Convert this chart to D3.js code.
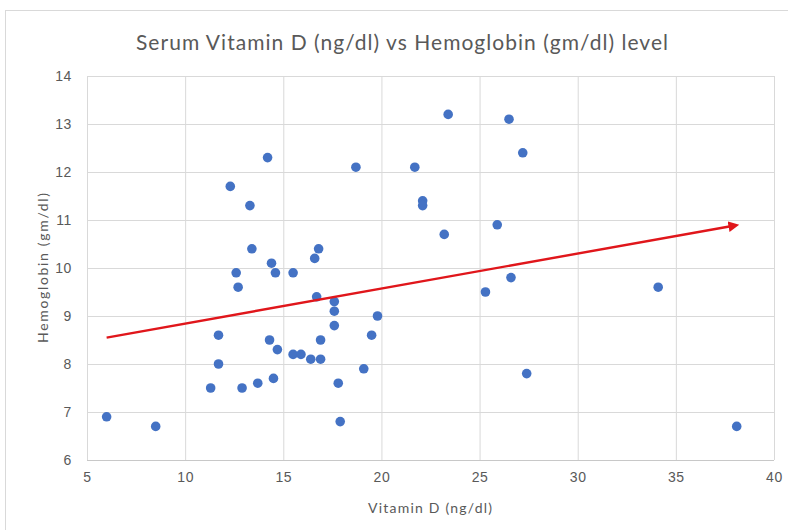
<!DOCTYPE html>
<html>
<head>
<meta charset="utf-8">
<script src="https://cdn.jsdelivr.net/npm/d3@7"></script>
<style>
  body { margin: 0; background: #fff; }
  svg { display: block; font-family: Lato, "Open Sans", sans-serif; }
</style>
</head>
<body>
<div id="chart"></div>
<script>
// Serum vitamin D (ng/dl) for each patient
const vitaminD = [
    6.0, 8.5, 11.3, 11.7, 11.7, 12.3, 12.6, 12.7, 12.9, 13.3,
    13.4, 13.7, 14.2, 14.3, 14.4, 14.5, 14.6, 14.7, 15.5, 15.5,
    15.9, 16.4, 16.6, 16.7, 16.8, 16.9, 16.9, 17.6, 17.6, 17.6,
    17.8, 17.9, 18.7, 19.1, 19.5, 19.8, 21.7, 22.1, 22.1, 23.2,
    23.4, 25.3, 25.9, 26.5, 26.6, 27.2, 27.4, 34.1, 38.1
];
// Hemoglobin (gm/dl), same order
const hemoglobin = [
    6.9, 6.7, 7.5, 8.0, 8.6, 11.7, 9.9, 9.6, 7.5, 11.3,
    10.4, 7.6, 12.3, 8.5, 10.1, 7.7, 9.9, 8.3, 9.9, 8.2,
    8.2, 8.1, 10.2, 9.4, 10.4, 8.5, 8.1, 9.3, 9.1, 8.8,
    7.6, 6.8, 12.1, 7.9, 8.6, 9.0, 12.1, 11.4, 11.3, 10.7,
    13.2, 9.5, 10.9, 13.1, 9.8, 12.4, 7.8, 9.6, 6.7
];
// hand drawn trend arrow (start, end) in data units
const arrowX = [6.0, 38.1];
const arrowY = [8.55, 10.88];

const xTicks = [5, 10, 15, 20, 25, 30, 35, 40];
const yTicks = [6, 7, 8, 9, 10, 11, 12, 13, 14];

const width = 788, height = 530;
const plot = { left: 87, right: 774, top: 76, bottom: 460 };
const grey = '#595959';

const svg = d3.select('#chart').append('svg')
    .attr('width', width)
    .attr('height', height);

// outer chart frame
svg.append('rect')
    .attr('x', 5.5).attr('y', 10.5)
    .attr('width', width).attr('height', height)
    .attr('fill', '#fff')
    .attr('stroke', '#d9d9d9');

const x = d3.scaleLinear().domain([5, 40]).range([plot.left, plot.right]);
const y = d3.scaleLinear().domain([6, 14]).range([plot.bottom, plot.top]);

// gridlines
svg.append('g')
    .attr('transform', `translate(0,${plot.bottom})`)
    .call(d3.axisBottom(x).tickValues(xTicks).tickSize(-(plot.bottom - plot.top)).tickFormat(''))
    .call(g => g.select('.domain').remove())
    .call(g => g.selectAll('line').attr('stroke', '#d9d9d9'));

svg.append('g')
    .attr('transform', `translate(${plot.left},0)`)
    .call(d3.axisLeft(y).tickValues(yTicks).tickSize(-(plot.right - plot.left)).tickFormat(''))
    .call(g => g.select('.domain').remove())
    .call(g => g.selectAll('line').attr('stroke', '#d9d9d9'));

// bottom axis line
svg.append('line')
    .attr('x1', plot.left).attr('x2', plot.right)
    .attr('y1', plot.bottom + 0.5).attr('y2', plot.bottom + 0.5)
    .attr('stroke', '#c8c8c8');

// tick labels
svg.append('g')
    .attr('transform', `translate(0,${plot.bottom + 12})`)
    .call(d3.axisBottom(x).tickValues(xTicks).tickSize(0).tickPadding(0))
    .call(g => g.select('.domain').remove())
    .call(g => g.selectAll('text').attr('fill', grey).attr('font-size', 14)
        .attr('letter-spacing', 0.6).attr('font-family', null));

svg.append('g')
    .attr('transform', `translate(${plot.left - 15},0)`)
    .call(d3.axisLeft(y).tickValues(yTicks).tickSize(0).tickPadding(0))
    .call(g => g.select('.domain').remove())
    .call(g => g.selectAll('text').attr('fill', grey).attr('font-size', 14)
        .attr('letter-spacing', 0.6).attr('font-family', null));

// points
svg.append('g')
    .selectAll('circle')
    .data(vitaminD.map((v, i) => [v, hemoglobin[i]]))
    .enter().append('circle')
    .attr('cx', d => x(d[0]))
    .attr('cy', d => y(d[1]))
    .attr('r', 4.8)
    .attr('fill', '#4472c4');

// red arrow
svg.append('defs').append('marker')
    .attr('id', 'head')
    .attr('viewBox', '0 0 10 10')
    .attr('refX', 2).attr('refY', 5)
    .attr('markerWidth', 4.5).attr('markerHeight', 4.5)
    .attr('orient', 'auto')
    .append('path')
    .attr('d', 'M0,0 L10,5 L0,10 z')
    .attr('fill', '#e0161b');

svg.append('line')
    .attr('x1', x(arrowX[0])).attr('y1', y(arrowY[0]))
    .attr('x2', x(arrowX[1]) - 6).attr('y2', y(arrowY[1]) + 0.5)
    .attr('stroke', '#e0161b')
    .attr('stroke-width', 2.4)
    .attr('marker-end', 'url(#head)');

// titles (stretched to the widths seen in the original)
svg.append('text')
    .attr('x', 402).attr('y', 50)
    .attr('text-anchor', 'middle')
    .attr('font-size', 21)
    .attr('textLength', 532)
    .attr('lengthAdjust', 'spacing')
    .attr('fill', grey)
    .text('Serum Vitamin D (ng/dl) vs Hemoglobin (gm/dl) level');

svg.append('text')
    .attr('x', 430).attr('y', 513)
    .attr('text-anchor', 'middle')
    .attr('font-size', 14)
    .attr('textLength', 124)
    .attr('lengthAdjust', 'spacing')
    .attr('fill', grey)
    .text('Vitamin D (ng/dl)');

svg.append('text')
    .attr('transform', 'translate(48,268) rotate(-90)')
    .attr('text-anchor', 'middle')
    .attr('font-size', 14)
    .attr('textLength', 150)
    .attr('lengthAdjust', 'spacing')
    .attr('fill', grey)
    .text('Hemoglobin (gm/dl)');
</script>
</body>
</html>
